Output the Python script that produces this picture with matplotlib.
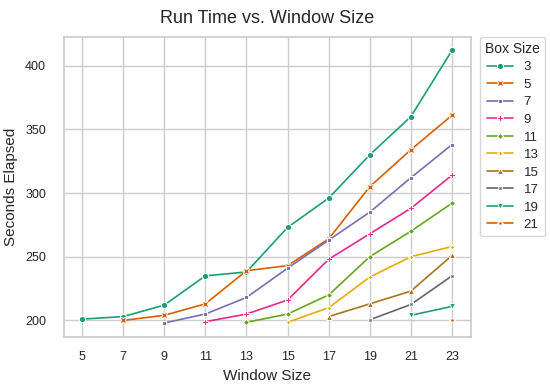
import pandas as pd
import matplotlib
matplotlib.use("Agg")
import matplotlib.pyplot as plt
import seaborn as sns

# window sizes on the x axis
window_sizes = [5, 7, 9, 11, 13, 15, 17, 19, 21, 23]
box_sizes = [3, 5, 7, 9, 11, 13, 15, 17, 19, 21]

# seconds elapsed per box size (each series starts at window = box + 2)
secs_3 = [201, 203, 212, 235, 238, 273, 296, 330, 360, 412]
secs_5 = [200, 204, 213, 239, 243, 264, 305, 334, 361]
secs_7 = [198, 205, 218, 241, 263, 285, 312, 338]
secs_9 = [199, 205, 216, 248, 268, 288, 314]
secs_11 = [198.5, 205, 220, 250, 270, 292]
secs_13 = [198.5, 210, 234, 250, 258]
secs_15 = [203, 213, 223, 251]
secs_17 = [200.5, 212.5, 235]
secs_19 = [204, 211]
secs_21 = [200]

all_secs = [secs_3, secs_5, secs_7, secs_9, secs_11, secs_13,
            secs_15, secs_17, secs_19, secs_21]

rows = []
for box, secs in zip(box_sizes, all_secs):
    xs = window_sizes[len(window_sizes) - len(secs):]
    for w, s in zip(xs, secs):
        rows.append({"Window Size": w, "Seconds Elapsed": s, "Box Size": box})
df = pd.DataFrame(rows)
df["Box Size"] = df["Box Size"].astype(str)

sns.set_theme(style="whitegrid")
plt.rcParams["font.family"] = ["Liberation Sans", "DejaVu Sans"]

fig = plt.figure(figsize=(5.5, 3.86), dpi=100)
ax = fig.add_axes([0.1155, 0.128, 0.74, 0.777])

sns.lineplot(data=df, x="Window Size", y="Seconds Elapsed", hue="Box Size",
             style="Box Size", markers=True, dashes=False,
             palette=sns.color_palette("Dark2", 10), linewidth=1.2,
             markersize=4.5, ax=ax)

ax.set_xticks(window_sizes)
ax.set_yticks([200, 250, 300, 350, 400])
ax.tick_params(axis="x", labelsize=9, pad=4.5)
ax.tick_params(axis="y", labelsize=9, pad=6.5)
ax.set_xlabel("Window Size", fontsize=11, labelpad=4)
ax.set_ylabel("Seconds Elapsed", fontsize=11, labelpad=5)
ax.set_title("Run Time vs. Window Size", fontsize=13, pad=10)

leg = ax.legend(title="Box Size", loc="upper left", bbox_to_anchor=(1.023, 1.0),
                fontsize=9.5, title_fontsize=10, borderaxespad=0,
                handlelength=2.0, labelspacing=0.4, handletextpad=0.8)

fig.savefig("out.png", dpi=100)
